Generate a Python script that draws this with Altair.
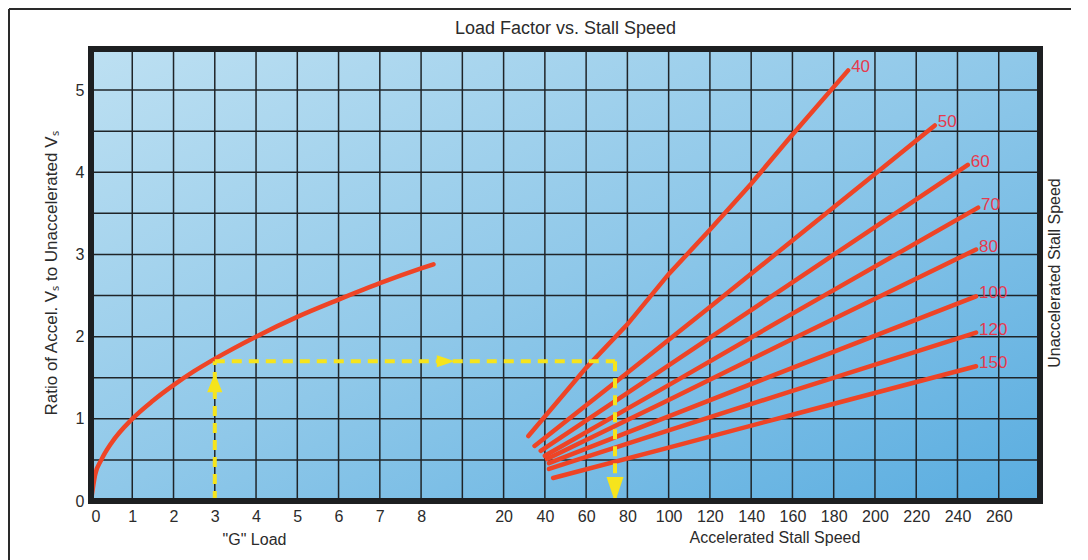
import altair as alt
import pandas as pd

# ---------------- data ----------------
G_LOAD = [0, 0.1, 0.25, 0.5, 1, 1.5, 2, 2.5, 3, 4, 5, 6, 7, 8, 8.3]
G_RATIO = [0, 0.32, 0.5, 0.71, 1.0, 1.22, 1.41, 1.58, 1.73, 2.0, 2.24, 2.45, 2.65, 2.83, 2.88]

VS_NAMES = ["40", "50", "60", "70", "80", "100", "120", "150"]
VS_SPEED = [
    [32, 60, 80, 100, 120, 140, 159, 187],
    [35, 80, 120, 160, 200, 229],
    [38, 100, 160, 245],
    [40, 100, 160, 250],
    [41, 100, 160, 249],
    [42, 100, 160, 249],
    [42, 100, 160, 249],
    [44, 100, 160, 249],
]
VS_RATIO = [
    [0.79, 1.62, 2.15, 2.76, 3.30, 3.86, 4.43, 5.24],
    [0.67, 1.56, 2.36, 3.17, 3.98, 4.57],
    [0.61, 1.65, 2.66, 4.09],
    [0.55, 1.41, 2.28, 3.57],
    [0.51, 1.23, 1.97, 3.06],
    [0.46, 1.03, 1.62, 2.49],
    [0.39, 0.86, 1.34, 2.05],
    [0.28, 0.65, 1.05, 1.64],
]

G_GRID = [0, 1, 2, 3, 4, 5, 6, 7, 8]
SPEED_GRID = [0, 20, 40, 60, 80, 100, 120, 140, 160, 180, 200, 220, 240, 260, 280]
X_TICK_COLS = [0, 1, 2, 3, 4, 5, 6, 7, 8, 10, 11, 12, 13, 14, 15, 16, 17, 18, 19, 20, 21, 22]
Y_TICKS = [0, 1, 2, 3, 4, 5]
Y_GRID = [0.5, 1, 1.5, 2, 2.5, 3, 3.5, 4, 4.5, 5]

# worked example (yellow path)
EX_G = [3, 3]
EX_G_RATIO = [0, 1.70]
EX_H_SPEED = [-120, 74]          # -120 on the speed columns is the G = 3 column
EX_H_RATIO = [1.70, 1.70]
EX_V_SPEED = [74, 74]
EX_V_RATIO = [1.70, 0]
ARROW_UP = (3, 1.44)             # G load, ratio
ARROW_RIGHT = (-8, 1.70)         # speed, ratio
ARROW_DOWN = (74, 0.14)          # speed, ratio

# ---------------- layout / style ----------------
W, H = 949, 452
X_DOM = [0, 23]          # grid columns: 0..8 = G load, 9 + speed/20 = stall speed
Y_DOM = [0, 5.5]
FONT = "Liberation Sans"
TXT = "#2b2b2b"
GRID_C = "#1f2428"
RED = "#ee4426"
LBL_RED = "#e6394d"
YEL = "#f6e41c"
SPEED_TO_COL = "9 + datum.s / 20"

xscale = alt.Scale(domain=X_DOM, nice=False, zero=False)
yscale = alt.Scale(domain=Y_DOM, nice=False, zero=False)

XAX = alt.Axis(
    values=X_TICK_COLS, orient="bottom", grid=False, ticks=False, tickSize=0,
    domain=False, labelPadding=7, labelFontSize=16, title='"G" Load',
    titleX=163, titleY=30, titleBaseline="top", titleFontSize=16,
    labelExpr="datum.value <= 8 ? datum.label : format((datum.value - 9) * 20, 'd')",
)
YAX = alt.Axis(
    values=Y_TICKS, orient="left", grid=False, ticks=False, tickSize=0,
    domain=False, labelPadding=7, labelFontSize=16,
    title="Ratio of Accel. Vₛ to Unaccelerated Vₛ",
    titleX=-40, titleY=H / 2 - 2, titleBaseline="middle", titleFontSize=17,
)


def X(field):
    return alt.X(field, type="quantitative", scale=xscale, axis=XAX)


def Y(field):
    return alt.Y(field, type="quantitative", scale=yscale, axis=YAX)


one = pd.DataFrame({"k": [0]})

grad = alt.Gradient(
    gradient="linear",
    stops=[
        alt.GradientStop(color="#bde0f2", offset=0),
        alt.GradientStop(color="#8fc8e9", offset=0.5),
        alt.GradientStop(color="#5aade0", offset=1),
    ],
    x1=0, y1=0, x2=1, y2=1,
)

bg = alt.Chart(one).mark_rect(color=grad).encode(
    x=alt.value(0), x2=alt.value(W), y=alt.value(0), y2=alt.value(H)
)

hgrid = alt.Chart(pd.DataFrame({"r": Y_GRID})).mark_rule(
    color=GRID_C, strokeWidth=1.5
).encode(y=Y("r"))

ggrid = alt.Chart(pd.DataFrame({"g": G_GRID})).mark_rule(
    color=GRID_C, strokeWidth=1.5
).encode(x=X("g"))

sgrid = alt.Chart(pd.DataFrame({"s": SPEED_GRID})).transform_calculate(
    col=SPEED_TO_COL
).mark_rule(color=GRID_C, strokeWidth=1.5).encode(x=X("col"))

curve = alt.Chart(pd.DataFrame({"g": G_LOAD, "r": G_RATIO})).mark_line(
    color=RED, strokeWidth=4.5, interpolate="monotone", strokeCap="round"
).encode(x=X("g"), y=Y("r"))

rows = []
for name, sp, ra in zip(VS_NAMES, VS_SPEED, VS_RATIO):
    for i, (s, r) in enumerate(zip(sp, ra)):
        rows.append({"vs": name, "i": i, "s": s, "r": r})
lines_df = pd.DataFrame(rows)
ends_df = pd.DataFrame({
    "vs": VS_NAMES,
    "s": [sp[-1] for sp in VS_SPEED],
    "r": [ra[-1] for ra in VS_RATIO],
})

lines = alt.Chart(lines_df).transform_calculate(col=SPEED_TO_COL).mark_line(
    color=RED, strokeWidth=4.5, strokeCap="round"
).encode(x=X("col"), y=Y("r"), detail="vs:N", order="i:Q")

labels = alt.Chart(ends_df).transform_calculate(col=SPEED_TO_COL).mark_text(
    align="left", baseline="middle", dx=3, dy=-3, fontSize=17, color=LBL_RED, font=FONT
).encode(x=X("col"), y=Y("r"), text="vs:N")

dash = dict(color=YEL, strokeWidth=4, strokeDash=[10, 7])
yel_gv = alt.Chart(pd.DataFrame({"g": EX_G, "r": EX_G_RATIO})).mark_line(**dash).encode(
    x=X("g"), y=Y("r"))
yel_h = alt.Chart(pd.DataFrame({"s": EX_H_SPEED, "r": EX_H_RATIO})).transform_calculate(
    col=SPEED_TO_COL).mark_line(**dash).encode(x=X("col"), y=Y("r"))
yel_sv = alt.Chart(pd.DataFrame({"s": EX_V_SPEED, "r": EX_V_RATIO})).transform_calculate(
    col=SPEED_TO_COL).mark_line(**dash).encode(x=X("col"), y=Y("r"))

arrow_up = alt.Chart(pd.DataFrame({"g": [ARROW_UP[0]], "r": [ARROW_UP[1]]})).mark_point(
    shape="M-0.8,1L0.8,1L0,-1Z", size=361, filled=True, opacity=1, color=YEL
).encode(x=X("g"), y=Y("r"))
arrow_right = alt.Chart(pd.DataFrame({"s": [ARROW_RIGHT[0]], "r": [ARROW_RIGHT[1]]})).transform_calculate(
    col=SPEED_TO_COL
).mark_point(
    shape="M-1,-0.67L1,0L-1,0.67Z", size=324, filled=True, opacity=1, color=YEL
).encode(x=X("col"), y=Y("r"))
arrow_down = alt.Chart(pd.DataFrame({"s": [ARROW_DOWN[0]], "r": [ARROW_DOWN[1]]})).transform_calculate(
    col=SPEED_TO_COL
).mark_point(
    shape="M-0.68,-1L0.68,-1L0,1Z", size=625, filled=True, opacity=1, color=YEL
).encode(x=X("col"), y=Y("r"))

border = alt.Chart(one).mark_rect(
    filled=False, stroke="#1d1f21", strokeWidth=6
).encode(x=alt.value(0), x2=alt.value(W), y=alt.value(0), y2=alt.value(H))

frame_top = alt.Chart(one).mark_rule(color="#2a2a2a", strokeWidth=2).encode(
    x=alt.value(-82), x2=alt.value(980), y=alt.value(-40)
)
frame_left = alt.Chart(one).mark_rule(color="#2a2a2a", strokeWidth=2).encode(
    x=alt.value(-82), y=alt.value(-40), y2=alt.value(515)
)

speed_title = alt.Chart(pd.DataFrame({"t": ["Accelerated Stall Speed"]})).mark_text(
    font=FONT, fontSize=16, color=TXT, align="center", baseline="middle"
).encode(x=alt.value(684), y=alt.value(H + 37), text="t:N")

right_title = alt.Chart(pd.DataFrame({"t": ["Unaccelerated Stall Speed"]})).mark_text(
    font=FONT, fontSize=16, color=TXT, align="center", baseline="middle", angle=270
).encode(x=alt.value(W + 15), y=alt.value(H / 2 - 2), text="t:N")

chart = alt.layer(
    bg, hgrid, ggrid, sgrid, curve, lines, labels,
    yel_gv, yel_h, yel_sv, arrow_up, arrow_right, arrow_down,
    border, frame_top, frame_left, speed_title, right_title,
).properties(
    width=W, height=H, padding=0,
    title=alt.TitleParams("Load Factor vs. Stall Speed", anchor="middle",
                          frame="group", offset=-30),
).configure_view(
    strokeWidth=0
).configure_axis(
    labelFont=FONT, titleFont=FONT, labelColor=TXT, titleColor=TXT,
    titleFontWeight="normal",
).configure_title(
    font=FONT, fontSize=18, fontWeight="normal", color=TXT
)

chart.save("out.html", embed_options={"renderer": "svg", "actions": False})
